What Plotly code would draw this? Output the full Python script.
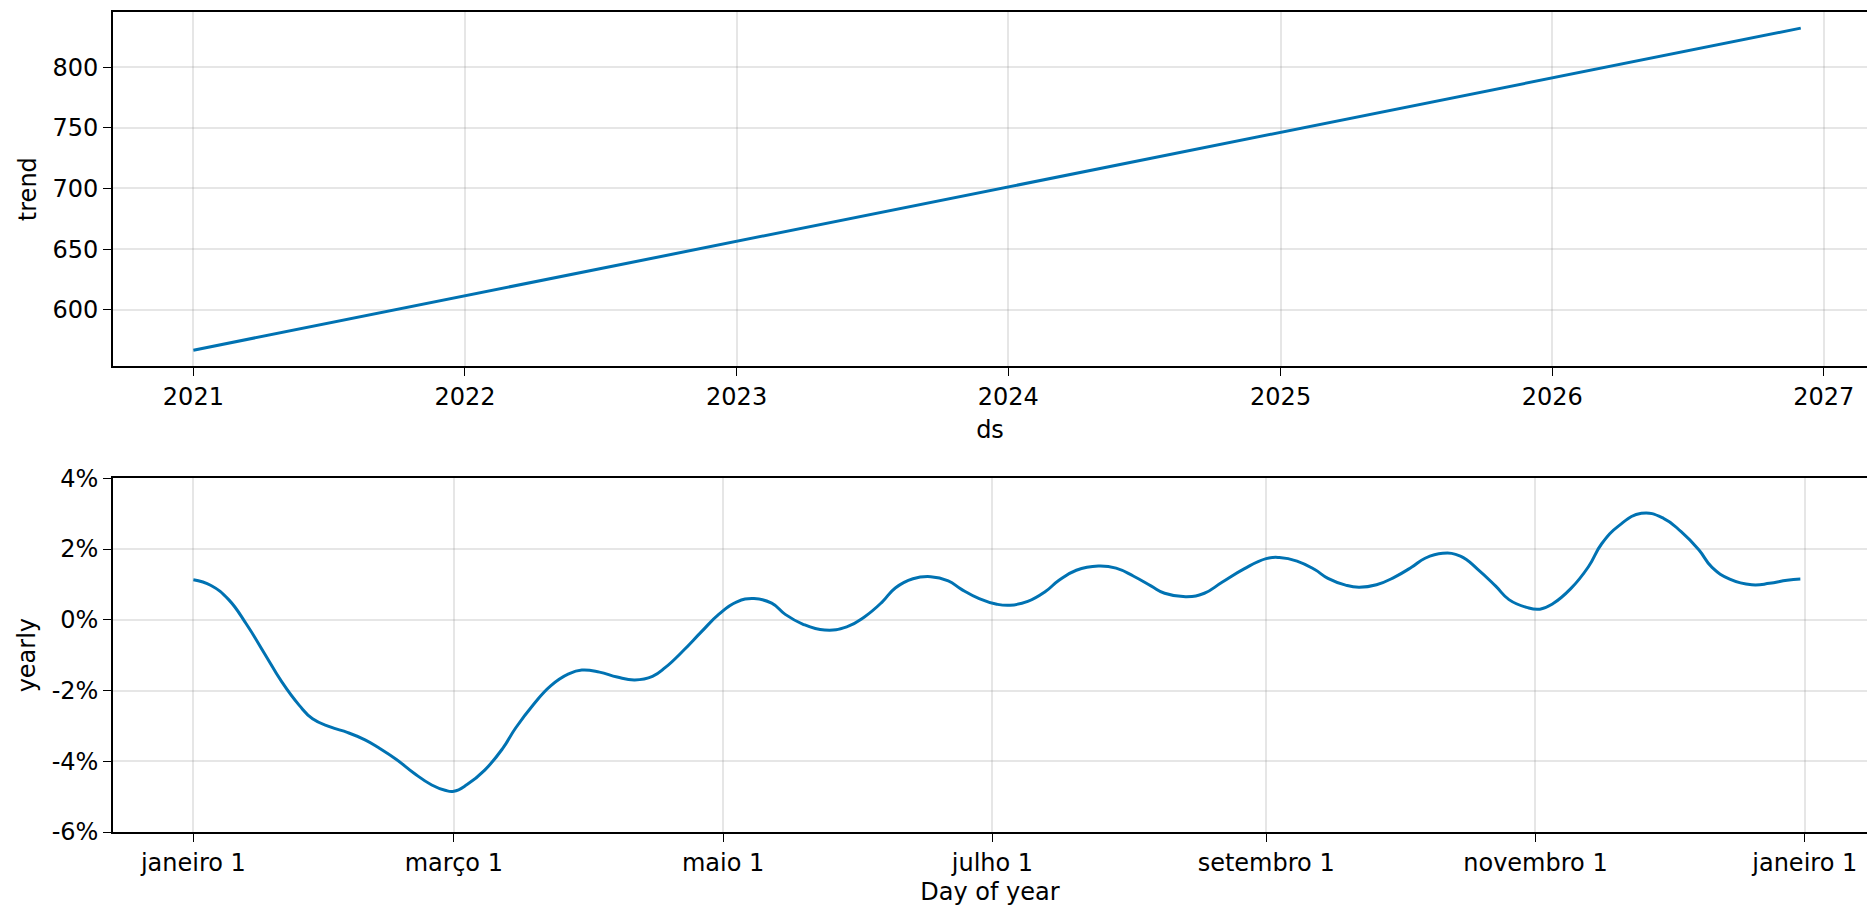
import pandas as pd
import plotly.graph_objects as go

# ---- data ----
trend_dates = ["2021-01-01", "2022-01-01", "2023-01-01", "2024-01-01",
               "2025-01-01", "2026-01-01", "2026-12-01"]
trend_values = [566.8, 611.6, 656.4, 701.2, 746.0, 790.8, 832.1]

yearly_days = [0, 4, 8, 12, 16, 20, 24, 27, 31, 35, 39, 42, 46, 50, 54, 57, 59,
               62, 66, 70, 73, 77, 81, 85, 88, 92, 96, 100, 104, 107, 111, 115,
               119, 123, 127, 131, 134, 138, 143, 148, 152, 156, 159, 163, 167,
               171, 174, 178, 182, 185, 189, 193, 196, 200, 205, 209, 213, 217,
               220, 225, 229, 233, 238, 243, 246, 250, 254, 257, 261, 264, 268,
               272, 276, 279, 283, 287, 291, 295, 298, 302, 305, 308, 312, 316,
               319, 323, 328, 333, 337, 341, 344, 348, 353, 357, 361, 364]
yearly_pct = [1.13, 0.97, 0.57, -0.12, -0.93, -1.75, -2.42, -2.80, -3.03, -3.19,
              -3.40, -3.62, -3.95, -4.34, -4.67, -4.82, -4.85, -4.66, -4.25,
              -3.65, -3.06, -2.40, -1.86, -1.53, -1.42, -1.48, -1.62, -1.70,
              -1.60, -1.34, -0.87, -0.35, 0.15, 0.50, 0.60, 0.47, 0.16, -0.12,
              -0.29, -0.20, 0.08, 0.50, 0.90, 1.16, 1.22, 1.10, 0.86, 0.60, 0.44,
              0.41, 0.52, 0.80, 1.11, 1.40, 1.52, 1.46, 1.23, 0.95, 0.75, 0.65,
              0.75, 1.06, 1.44, 1.73, 1.76, 1.66, 1.42, 1.17, 0.98, 0.92, 0.99,
              1.20, 1.49, 1.74, 1.88, 1.80, 1.42, 0.95, 0.57, 0.35, 0.30, 0.46,
              0.88, 1.50, 2.15, 2.67, 3.01, 2.87, 2.49, 1.98, 1.48, 1.15, 0.99,
              1.03, 1.12, 1.15]

trend_ticks = [600, 650, 700, 750, 800]
year_ticks = ["2021", "2022", "2023", "2024", "2025", "2026", "2027"]
yearly_ticks = [-6, -4, -2, 0, 2, 4]
month_tick_dates = ["2017-01-01", "2017-03-01", "2017-05-01", "2017-07-01",
                    "2017-09-01", "2017-11-01", "2018-01-01"]
month_tick_labels = ["janeiro 1", "março 1", "maio 1", "julho 1",
                     "setembro 1", "novembro 1", "janeiro 1"]

# ---- build ----
base = pd.Timestamp("2017-01-01")
yearly_dates = [base + pd.Timedelta(days=d) for d in yearly_days]
yearly_frac = [v / 100 for v in yearly_pct]

BLUE = "#0072B2"
FONT = "DejaVu Sans"
GRID = "rgba(128,128,128,0.2)"
FS = 24

fig = go.Figure()
fig.add_trace(go.Scatter(x=pd.to_datetime(trend_dates), y=trend_values, mode="lines",
                         line=dict(color=BLUE, width=3), xaxis="x", yaxis="y",
                         showlegend=False))
fig.add_trace(go.Scatter(x=yearly_dates, y=yearly_frac, mode="lines",
                         line=dict(color=BLUE, width=3, shape="spline", smoothing=1.3),
                         xaxis="x2", yaxis="y2", showlegend=False))

axis_common = dict(showline=True, linecolor="black", linewidth=1.6,
                   ticks="outside", ticklen=8, tickwidth=1.4, tickcolor="black",
                   showgrid=True, gridcolor=GRID, gridwidth=1.5, zeroline=False,
                   automargin=False,
                   tickfont=dict(family=FONT, size=FS, color="black"))

# pixel layout
TOP, BOT = 11.7, 831.7
PH = BOT - TOP
p1_top, p1_bot = 11.7, 366.0
p2_top, p2_bot = 478.0, 831.7

fig.update_layout(
    width=1867, height=910,
    margin=dict(l=113, r=0, t=TOP, b=910 - BOT, autoexpand=False),
    paper_bgcolor="white", plot_bgcolor="white",
    font=dict(family=FONT, size=FS, color="black"),
    showlegend=False,
    xaxis=dict(axis_common, type="date", domain=[0, 1], anchor="y", mirror=True,
               range=["2020-09-15", "2027-02-28"],
               tickvals=[pd.Timestamp(y + "-01-01") for y in year_ticks],
               ticktext=year_ticks,
               title=dict(text="ds", font=dict(family=FONT, size=FS), standoff=11)),
    yaxis=dict(axis_common, domain=[(BOT - p1_bot) / PH, (BOT - p1_top) / PH], anchor="x",
               mirror=False, range=[553.5, 845.4], tickvals=trend_ticks,
               ticktext=[str(v) for v in trend_ticks],
               title=dict(text="trend", font=dict(family=FONT, size=FS), standoff=9)),
    xaxis2=dict(axis_common, type="date", domain=[0, 1], anchor="y2", mirror=True,
                range=[base - pd.Timedelta(days=18.2), base + pd.Timedelta(days=379.1)],
                tickvals=pd.to_datetime(month_tick_dates), ticktext=month_tick_labels,
                title=dict(text="Day of year", font=dict(family=FONT, size=FS), standoff=8)),
    yaxis2=dict(axis_common, domain=[(BOT - p2_bot) / PH, (BOT - p2_top) / PH], anchor="x2",
                mirror=False, range=[-0.06, 0.04], tickvals=[v / 100 for v in yearly_ticks],
                ticktext=[f"{v}%" for v in yearly_ticks],
                title=dict(text="yearly", font=dict(family=FONT, size=FS), standoff=9)),
)

fig.write_html(
    "out.html",
    config={"displayModeBar": False},
    post_script="document.body.style.margin='0';document.body.style.overflow='hidden';",
)
